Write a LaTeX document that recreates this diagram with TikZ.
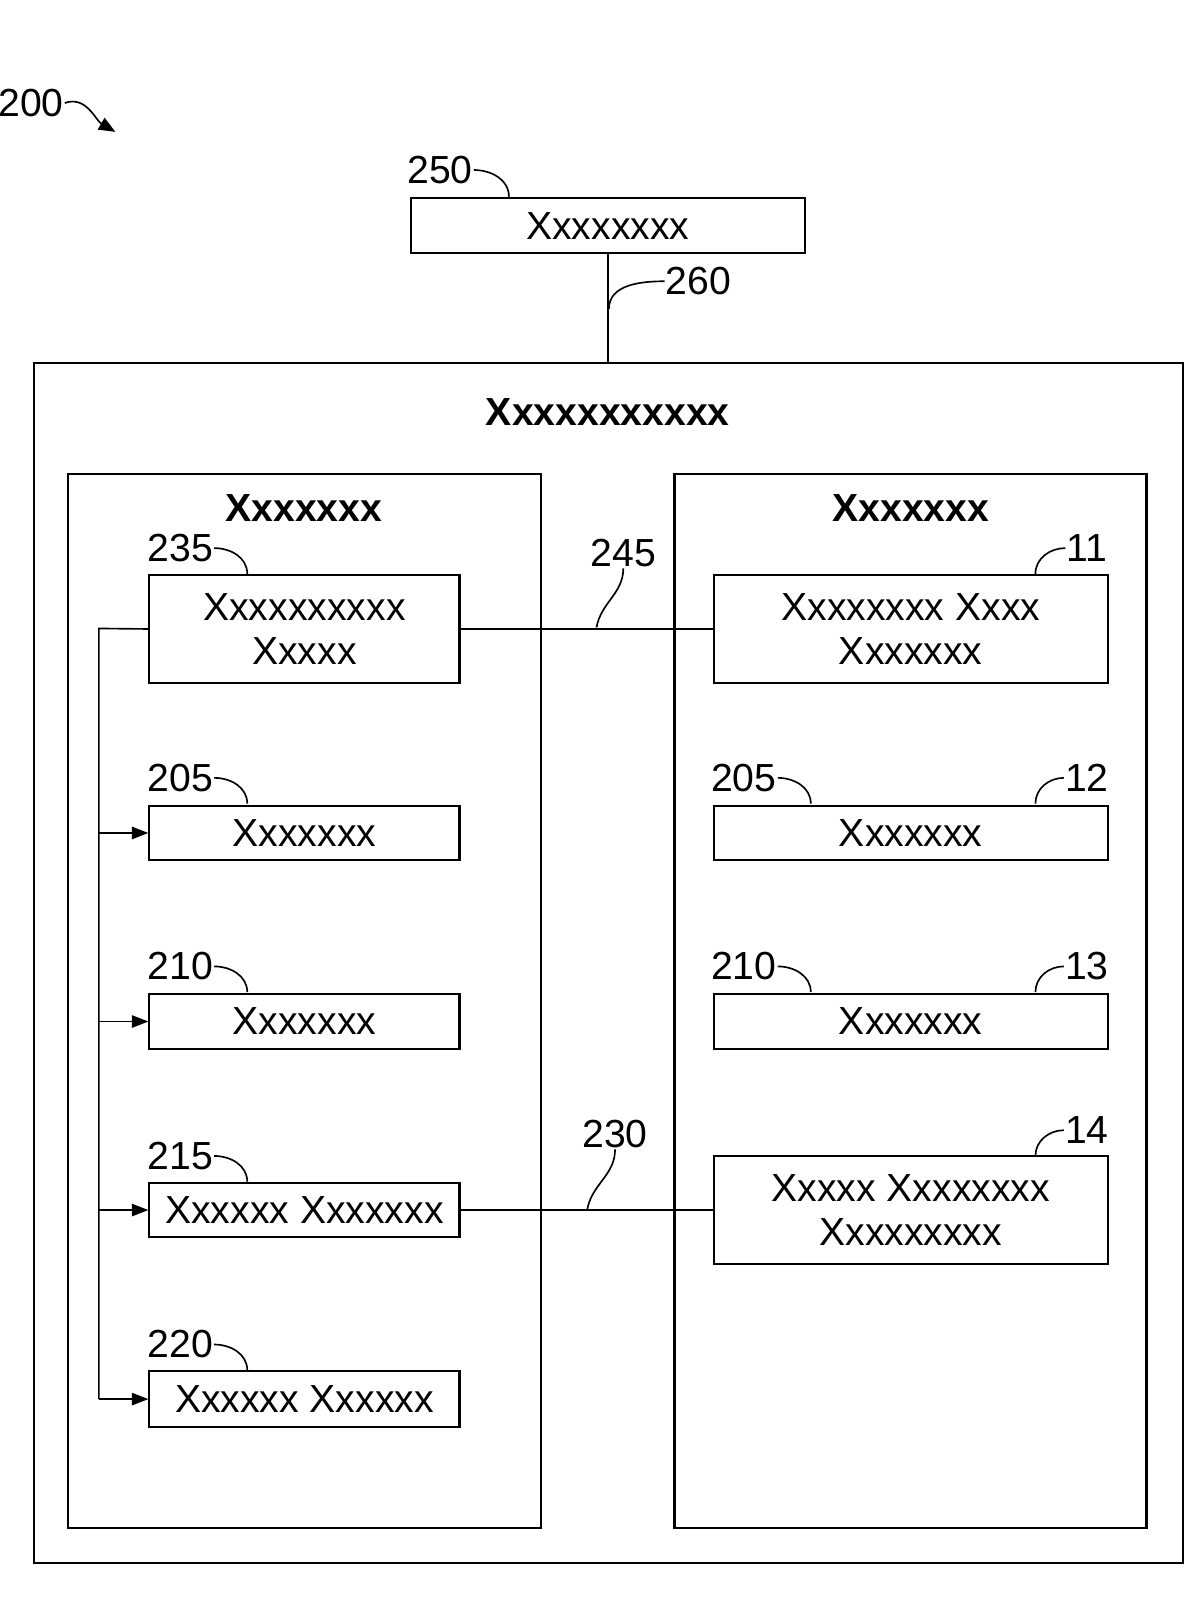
\documentclass[tikz,border=0pt]{standalone}
\usepackage{fontspec}
\setmainfont{Liberation Sans}
\usetikzlibrary{arrows.meta}
\begin{document}
\begin{tikzpicture}[x=1pt,y=-1pt,
  bx/.style={draw,line width=2pt},
  big/.style={draw,line width=2.6pt},
  t/.style={font=\fontsize{38}{42}\selectfont,align=center},
  tb/.style={font=\fontsize{38}{42}\selectfont\bfseries},
  lb/.style={font=\fontsize{38}{42}\selectfont,inner sep=1pt},
  ln/.style={line width=1.6pt},
  ar/.style={ln,-{Triangle[length=16pt,width=12pt]}}]
\useasboundingbox (0,0) rectangle (1166,1553);
\draw[line width=2pt] (33,352) rectangle (1148,1517);
\draw[big] (66,460) rectangle (525,1483);
\draw[big] (655,460) rectangle (1113,1483);
\node[tb] (title) at (590,400) {Xxxxxxxxxxx};
\node[tb] (lt) at (295,493) {Xxxxxxx};
\node[tb] (rt) at (884,493) {Xxxxxxx};
% top box
\node[bx,t,minimum width=382pt,minimum height=54pt,inner sep=0pt] (b250) at (590,219) {Xxxxxxxx};
\coordinate (c352) at (590,352);
\draw[ln] (b250.south) -- (c352);
\node[lb] (l250) at (427,165) {250};
\coordinate (h250) at (494,191);
\draw[ln] (l250.east) to[out=0,in=90] (h250);
\node[lb] (l260) at (678,273) {260};
\coordinate (h260) at (591,300);
\draw[ln] (h260) to[out=90,in=180] (l260.west);
% left column
\tikzset{lbox/.style={bx,t,minimum width=301pt,inner sep=0pt}}
\node[lbox,minimum height=105pt] (b235) at (295.5,610.5) {Xxxxxxxxxx\\Xxxxx};
\node[lbox,minimum height=53pt] (b205) at (295.5,808.5) {Xxxxxxx};
\node[lbox,minimum height=53pt] (b210) at (295.5,991.5) {Xxxxxxx};
\node[lbox,minimum height=53pt] (b215) at (295.5,1174.5) {Xxxxxx Xxxxxxx};
\node[lbox,minimum height=54pt] (b220) at (295.5,1358) {Xxxxxx Xxxxxx};
% right column
\tikzset{rbox/.style={bx,t,minimum width=382pt,inner sep=0pt}}
\node[rbox,minimum height=105pt] (b11) at (884,610.5) {Xxxxxxxx Xxxx\\Xxxxxxx};
\node[rbox,minimum height=53pt] (b12) at (884,808.5) {Xxxxxxx};
\node[rbox,minimum height=53pt] (b13) at (884,991.5) {Xxxxxxx};
\node[rbox,minimum height=105pt] (b14) at (884,1174.5) {Xxxxx Xxxxxxxx\\Xxxxxxxxx};
% bus
\coordinate (bt) at (96,610);
\coordinate (bb) at (96,1358);
\draw[ln] (b235.west) -- (bt) -- (bb);
\draw[ar] (bb) -- (b220.west);
\draw[ar] (b205.west -| bt) -- (b205.west);
\draw[ar] (b210.west -| bt) -- (b210.west);
\draw[ar] (b215.west -| bt) -- (b215.west);
% links
\draw[ln] (b235.east) -- (b11.west);
\draw[ln] (b215.east) -- (b14.west);
\node[lb] (l245) at (605,537) {245};
\coordinate (h245) at (579,609);
\draw[ln] (h245) to[out=80,in=-90] (l245.south);
\node[lb] (l230) at (597,1101) {230};
\coordinate (h230) at (570,1174);
\draw[ln] (h230) to[out=80,in=-90] (l230.south);
% labels left
\foreach \n/\y/\b in {235/532/b235,205/755/b205,210/938/b210,215/1122/b215,220/1305/b220}{
  \node[lb] (L\n\b) at (175,\y) {\n};
  \draw[ln] (L\n\b.east) to[out=0,in=90] (240,\y+25);
}
\foreach \n/\y in {205/755,210/938}{
  \node[lb] (R\n) at (722,\y) {\n};
  \draw[ln] (R\n.east) to[out=0,in=90] (787,\y+25);
}
\foreach \n/\y in {11/532,12/755,13/938,14/1097}{
  \node[lb] (N\n) at (1055,\y) {\n};
  \draw[ln] (N\n.west) to[out=180,in=90] (1005,\y+25);
}
% 200
\node[lb] (l200) at (30,100) {200};
\coordinate (a200) at (112,128);
\draw[ln,-{Triangle[length=16pt,width=13pt]}] (l200.east) to[out=20,in=150] (a200);
\end{tikzpicture}
\end{document}
